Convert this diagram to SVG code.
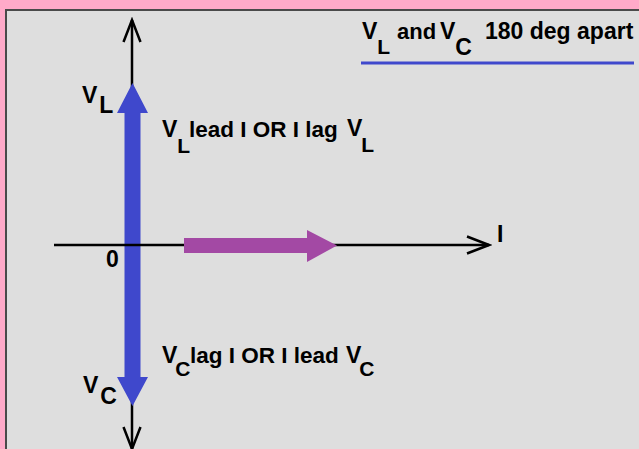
<svg xmlns="http://www.w3.org/2000/svg" width="639" height="449" viewBox="0 0 639 449">
  <style>
    .t { font-family: "Liberation Sans", Arial, sans-serif; font-weight: bold; font-size: 23px; fill: #000; }
    .s { font-size: 21px; }
    .p { font-size: 22.5px; }
    .axis { stroke: #000; stroke-width: 2.5; fill: none; }
  </style>
  <defs>
    <marker id="open" viewBox="-2 -11 27 22" refX="22" refY="0" markerWidth="27" markerHeight="22" markerUnits="userSpaceOnUse" orient="auto-start-reverse">
      <path d="M0,-8.5 L22,0 L0,8.5" fill="none" stroke="#000" stroke-width="2.5"/>
    </marker>
  </defs>

  <!-- frame -->
  <rect x="0" y="0" width="639" height="449" fill="#ffaac9"/>
  <rect x="6" y="10" width="640" height="450" fill="#dedede" stroke="#4a4a4a" stroke-width="2"/>

  <!-- title -->
  <g id="title">
    <text class="t" x="362" y="39">V<tspan class="s" dy="15">L</tspan></text>
    <text class="t" x="397" y="39" style="font-size:22px">and</text>
    <text class="t" x="440" y="39">V<tspan dy="16">C</tspan></text>
    <text class="t" x="485" y="39">180 deg apart</text>
    <line x1="361" y1="63" x2="634" y2="63" stroke="#3f48cc" stroke-width="3"/>
  </g>

  <!-- vertical axis -->
  <g id="connectors">
    <line id="v-axis" class="axis" x1="132" y1="449" x2="132" y2="20" marker-start="url(#open)" marker-end="url(#open)"/>
  </g>

  <!-- V_L phasor -->
  <g id="VL">
    <polygon points="132.5,83 148,113 140.5,113 140.5,245 124.5,245 124.5,113 117,113" fill="#3f48cc"/>
    <text class="t" x="82" y="103">V<tspan dx="2" dy="10">L</tspan></text>
  </g>

  <!-- V_C phasor -->
  <g id="VC">
    <polygon points="124.5,245 140.5,245 140.5,377 148,377 132.5,406 117,377 124.5,377" fill="#3f48cc"/>
    <text class="t" x="83" y="393">V<tspan dx="2" dy="11">C</tspan></text>
  </g>

  <!-- horizontal axis -->
  <g id="h-axis">
    <line class="axis" x1="54" y1="245" x2="489" y2="245" marker-end="url(#open)"/>
    <text class="t" x="106" y="267">0</text>
    <text class="t" x="497" y="242">I</text>
  </g>

  <!-- current phasor -->
  <g id="I">
    <polygon points="184,238 307,238 307,230 337,245.5 307,262 307,253 184,253" fill="#a349a4"/>
  </g>

  <!-- relations -->
  <g id="lead-note">
    <text class="t" x="162" y="137">V<tspan class="s" dy="16">L</tspan></text>
    <text class="t p" x="189" y="137">lead I OR I lag</text>
    <text class="t" x="347" y="136">V<tspan class="s" dx="-1" dy="16">L</tspan></text>
  </g>
  <g id="lag-note">
    <text class="t" x="162" y="363">V<tspan class="s" dx="-2" dy="13">C</tspan></text>
    <text class="t p" x="190" y="363">lag I OR I lead</text>
    <text class="t" x="346" y="363">V<tspan class="s" dx="-2" dy="13">C</tspan></text>
  </g>
</svg>
